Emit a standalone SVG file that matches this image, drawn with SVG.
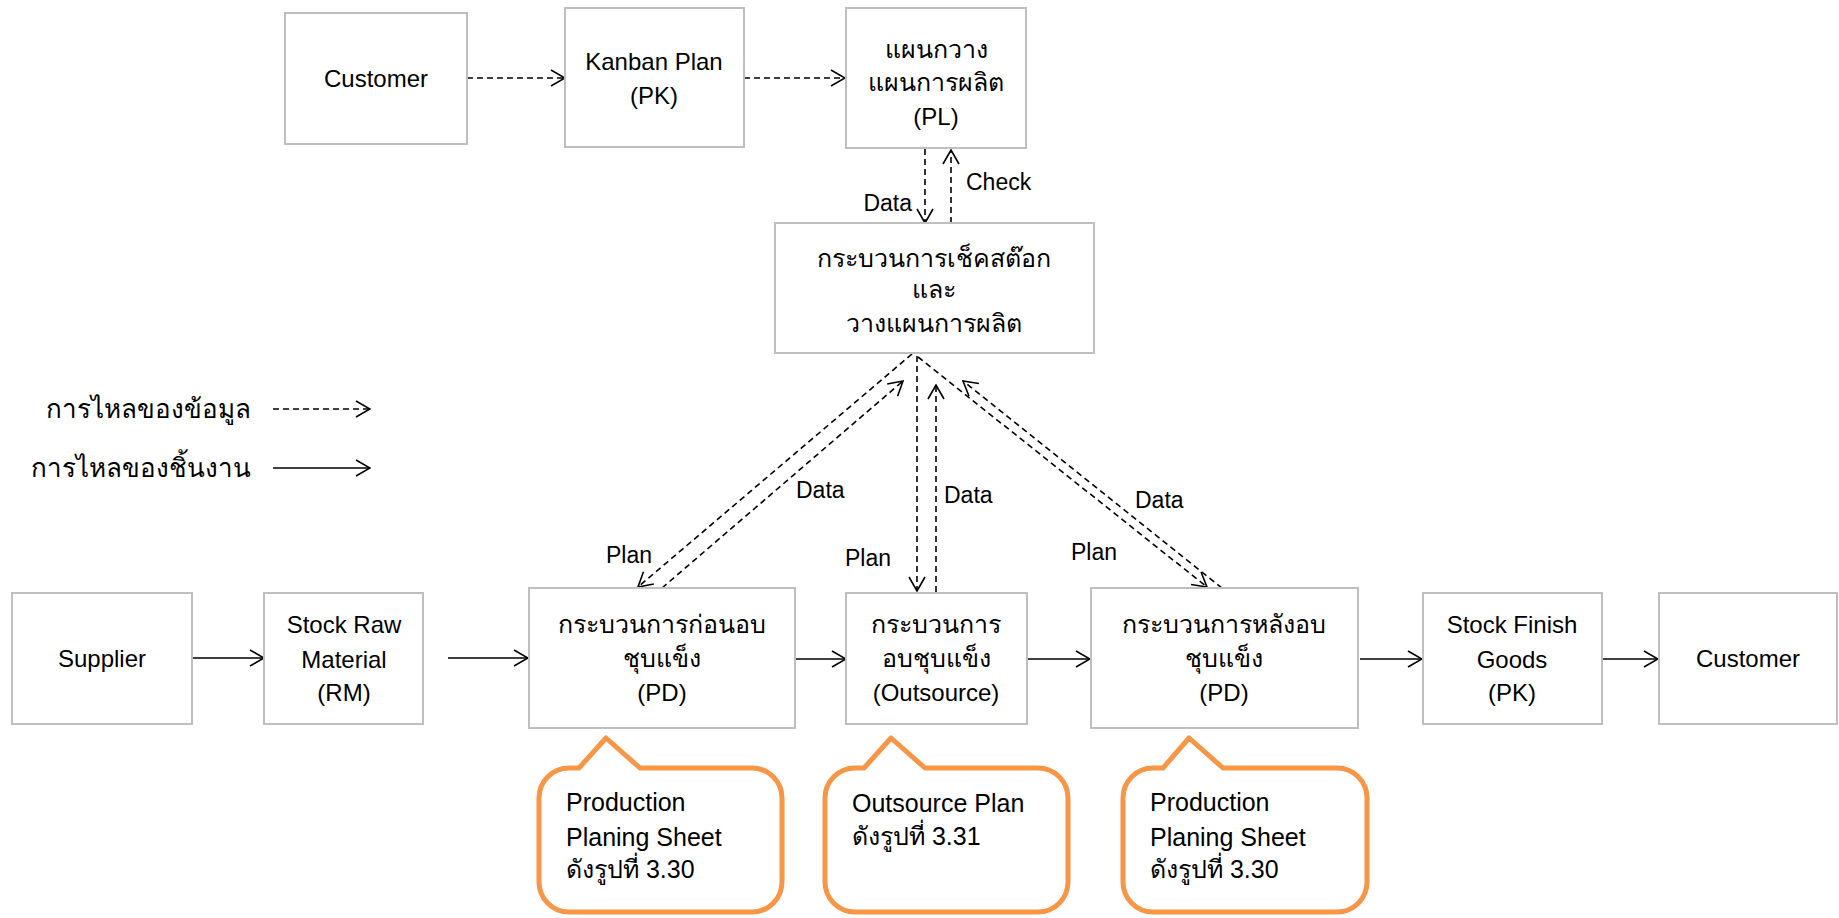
<svg xmlns="http://www.w3.org/2000/svg" width="1839" height="918" viewBox="0 0 1839 918">
  <style>
    .box { fill: #ffffff; stroke: #bfbfbf; stroke-width: 2; }
    .lbl { font-family: "Liberation Sans", "Noto Sans", sans-serif; font-size: 24px; fill: #000; text-anchor: middle; }
    .th { font-size: 25px; }
    .small { font-family: "Liberation Sans", "Noto Sans", sans-serif; font-size: 23px; fill: #000; }
    .note { font-family: "Liberation Sans", "Noto Sans", sans-serif; font-size: 25px; fill: #000; }
    .legend { font-family: "Liberation Sans", "Noto Sans", sans-serif; font-size: 26px; fill: #000; text-anchor: end; }
    .data { fill: none; stroke: #000; stroke-width: 1.6; stroke-dasharray: 6 4; marker-end: url(#arrow); }
    .flow { fill: none; stroke: #000; stroke-width: 1.6; marker-end: url(#arrow); }
    .callout { fill: #ffffff; stroke: #f79646; stroke-width: 5; stroke-linejoin: round; }
  </style>
  <defs>
    <marker id="arrow" viewBox="0 0 16 18" refX="15" refY="9" markerWidth="16" markerHeight="18" markerUnits="userSpaceOnUse" orient="auto">
      <path d="M1,1 L15,9 L1,17" fill="none" stroke="#000" stroke-width="1.6"/>
    </marker>
  </defs>
  <rect width="1839" height="918" fill="#ffffff"/>

  <!-- connectors -->
  <g id="connectors">
    <!-- information flow, top row -->
    <line class="data" x1="467" y1="78" x2="565" y2="78"/>
    <line class="data" x1="744" y1="78" x2="845" y2="78"/>
    <line class="data" x1="925" y1="149" x2="925" y2="223"/>
    <line class="data" x1="951" y1="223" x2="951" y2="150"/>
    <!-- plan / data between planning and processes -->
    <line class="data" x1="912" y1="354" x2="638" y2="587"/>
    <line class="data" x1="662" y1="588" x2="903" y2="381"/>
    <line class="data" x1="917" y1="356" x2="917" y2="591"/>
    <line class="data" x1="936" y1="592" x2="936" y2="385"/>
    <line class="data" x1="918" y1="357" x2="1207" y2="587"/>
    <line class="data" x1="1222" y1="588" x2="963" y2="381"/>
    <!-- material flow, bottom row -->
    <line class="flow" x1="192" y1="658" x2="264" y2="658"/>
    <line class="flow" x1="448" y1="658" x2="528" y2="658"/>
    <line class="flow" x1="795" y1="659" x2="846" y2="659"/>
    <line class="flow" x1="1027" y1="659" x2="1090" y2="659"/>
    <line class="flow" x1="1360" y1="659" x2="1422" y2="659"/>
    <line class="flow" x1="1603" y1="659" x2="1658" y2="659"/>
    <!-- legend -->
    <line class="data" x1="273" y1="409" x2="370" y2="409"/>
    <line class="flow" x1="273" y1="468" x2="370" y2="468"/>
  </g>

  <!-- connector labels -->
  <g id="connector-labels">
    <text class="small" x="912" y="211" text-anchor="end">Data</text>
    <text class="small" x="966" y="190">Check</text>
    <text class="small" x="796" y="498">Data</text>
    <text class="small" x="944" y="503">Data</text>
    <text class="small" x="1135" y="508">Data</text>
    <text class="small" x="606" y="563">Plan</text>
    <text class="small" x="845" y="566">Plan</text>
    <text class="small" x="1071" y="560">Plan</text>
  </g>

  <!-- legend -->
  <g id="legend">
    <text class="legend" x="251" y="418">การไหลของข้อมูล</text>
    <text class="legend" x="251" y="477">การไหลของชิ้นงาน</text>
  </g>

  <!-- top row -->
  <g id="customer-top">
    <rect class="box" x="285" y="13" width="182" height="131"/>
    <text class="lbl" x="376" y="87">Customer</text>
  </g>
  <g id="kanban-plan">
    <rect class="box" x="565" y="8" width="179" height="139"/>
    <text class="lbl" x="654" y="70">Kanban Plan</text>
    <text class="lbl" x="654" y="104">(PK)</text>
  </g>
  <g id="production-plan">
    <rect class="box" x="846" y="8" width="180" height="140"/>
    <text class="lbl th" x="936" y="58">แผนกวาง</text>
    <text class="lbl th" x="936" y="91">แผนการผลิต</text>
    <text class="lbl" x="936" y="125">(PL)</text>
  </g>
  <g id="stock-check">
    <rect class="box" x="775" y="223" width="319" height="130"/>
    <text class="lbl th" x="934" y="267">กระบวนการเช็คสต๊อก</text>
    <text class="lbl th" x="934" y="298">และ</text>
    <text class="lbl th" x="934" y="332">วางแผนการผลิต</text>
  </g>

  <!-- bottom row -->
  <g id="supplier">
    <rect class="box" x="12" y="593" width="180" height="131"/>
    <text class="lbl" x="102" y="667">Supplier</text>
  </g>
  <g id="stock-raw">
    <rect class="box" x="264" y="593" width="159" height="131"/>
    <text class="lbl" x="344" y="633">Stock Raw</text>
    <text class="lbl" x="344" y="668">Material</text>
    <text class="lbl" x="344" y="701">(RM)</text>
  </g>
  <g id="pre-hardening">
    <rect class="box" x="529" y="588" width="266" height="140"/>
    <text class="lbl th" x="662" y="633">กระบวนการก่อนอบ</text>
    <text class="lbl th" x="662" y="667">ชุบแข็ง</text>
    <text class="lbl" x="662" y="701">(PD)</text>
  </g>
  <g id="outsource">
    <rect class="box" x="846" y="593" width="181" height="131"/>
    <text class="lbl th" x="936" y="633">กระบวนการ</text>
    <text class="lbl th" x="936" y="667">อบชุบแข็ง</text>
    <text class="lbl" x="936" y="701">(Outsource)</text>
  </g>
  <g id="post-hardening">
    <rect class="box" x="1091" y="588" width="267" height="140"/>
    <text class="lbl th" x="1224" y="633">กระบวนการหลังอบ</text>
    <text class="lbl th" x="1224" y="667">ชุบแข็ง</text>
    <text class="lbl" x="1224" y="701">(PD)</text>
  </g>
  <g id="stock-finish">
    <rect class="box" x="1423" y="593" width="179" height="131"/>
    <text class="lbl" x="1512" y="633">Stock Finish</text>
    <text class="lbl" x="1512" y="668">Goods</text>
    <text class="lbl" x="1512" y="701">(PK)</text>
  </g>
  <g id="customer-bottom">
    <rect class="box" x="1659" y="593" width="178" height="131"/>
    <text class="lbl" x="1748" y="667">Customer</text>
  </g>

  <!-- callouts -->
  <g id="note-pre">
    <path class="callout" d="M569,768 L579,768 L606,738 L640,768 L752,768 A30,30 0 0 1 782,798 L782,882 A30,30 0 0 1 752,912 L569,912 A30,30 0 0 1 539,882 L539,798 A30,30 0 0 1 569,768 Z"/>
    <text class="note" x="566" y="811">Production</text>
    <text class="note" x="566" y="846">Planing Sheet</text>
    <text class="note" x="566" y="878">ดังรูปที่ 3.30</text>
  </g>
  <g id="note-outsource">
    <path class="callout" d="M855,768 L864,768 L891,738 L925,768 L1038,768 A30,30 0 0 1 1068,798 L1068,882 A30,30 0 0 1 1038,912 L855,912 A30,30 0 0 1 825,882 L825,798 A30,30 0 0 1 855,768 Z"/>
    <text class="note" x="852" y="812">Outsource Plan</text>
    <text class="note" x="852" y="845">ดังรูปที่ 3.31</text>
  </g>
  <g id="note-post">
    <path class="callout" d="M1153,768 L1163,768 L1189,738 L1223,768 L1337,768 A30,30 0 0 1 1367,798 L1367,882 A30,30 0 0 1 1337,912 L1153,912 A30,30 0 0 1 1123,882 L1123,798 A30,30 0 0 1 1153,768 Z"/>
    <text class="note" x="1150" y="811">Production</text>
    <text class="note" x="1150" y="846">Planing Sheet</text>
    <text class="note" x="1150" y="878">ดังรูปที่ 3.30</text>
  </g>
</svg>
